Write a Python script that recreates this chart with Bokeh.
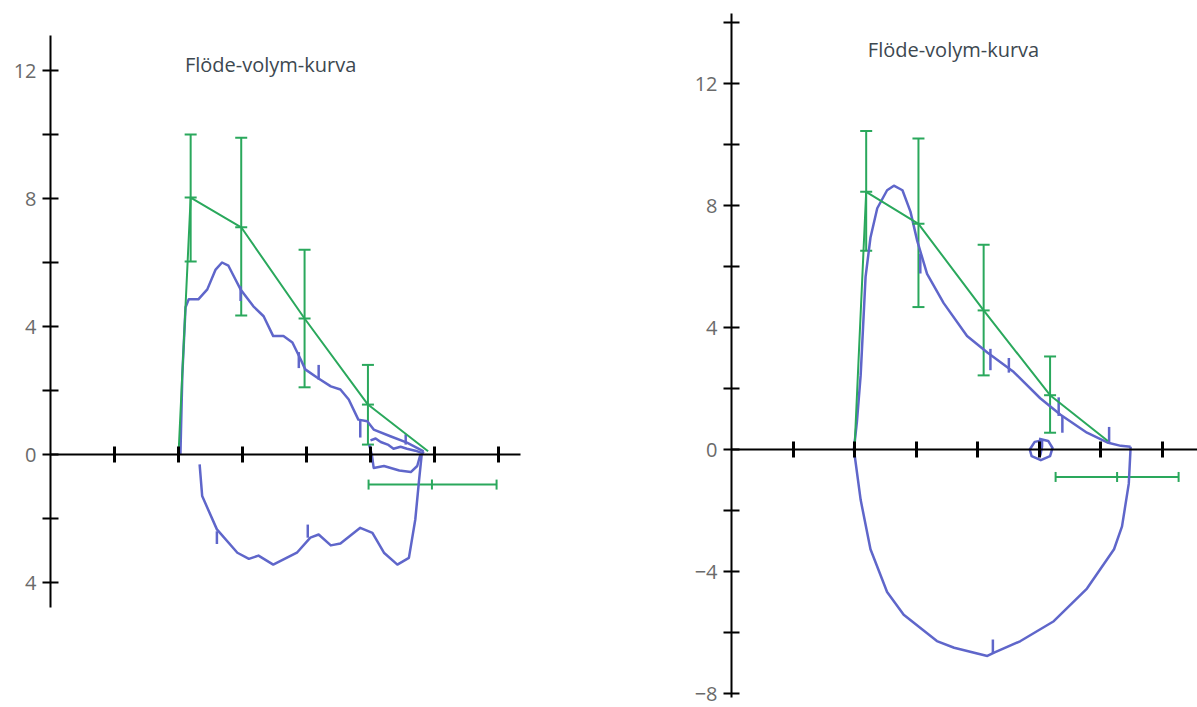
from bokeh.plotting import figure
from bokeh.layouts import row
from bokeh.models import FixedTicker, Range1d, Whisker, ColumnDataSource, TeeHead
from bokeh.embed import file_html
from bokeh.resources import INLINE
from bokeh.core.properties import value

# ---------------- data: left panel ----------------
title_text = "Flöde-volym-kurva"

L_exp_x = [2.03, 2.06, 2.11, 2.16, 2.31, 2.45, 2.58, 2.68, 2.78, 2.89, 2.97, 3.17, 3.33, 3.48,
           3.64, 3.78, 3.91, 3.98, 4.17, 4.38, 4.53, 4.66, 4.81, 4.95, 5.05, 5.31, 5.57, 5.83]
L_exp_y = [0.0, 2.5, 4.6, 4.85, 4.85, 5.16, 5.78, 6.0, 5.9, 5.47, 5.16, 4.63, 4.32, 3.7,
           3.7, 3.5, 2.97, 2.66, 2.4, 2.13, 2.03, 1.72, 1.09, 1.04, 0.78, 0.57, 0.37, 0.1]
L_insp_x = [5.83, 5.8, 5.76, 5.7, 5.6, 5.42, 5.21, 5.03, 4.84, 4.53, 4.38, 4.19, 4.06, 3.85,
            3.48, 3.25, 3.1, 2.92, 2.6, 2.37, 2.33]
L_insp_y = [0.1, 0.0, -0.78, -2.03, -3.23, -3.44, -3.07, -2.45, -2.29, -2.78, -2.84, -2.5, -2.6, -3.07,
            -3.44, -3.16, -3.26, -3.07, -2.34, -1.3, -0.31]
L_loop_x = [4.98, 5.02, 5.05, 5.21, 5.45, 5.63, 5.73, 5.78]
L_loop_y = [0.3, 0.0, -0.42, -0.36, -0.5, -0.55, -0.36, 0.0]
L_trace2_x = [5.0, 5.08, 5.16, 5.28, 5.36, 5.47, 5.57, 5.7, 5.8]
L_trace2_y = [0.44, 0.5, 0.39, 0.3, 0.18, 0.24, 0.18, 0.12, 0.05]
L_tick_x = [2.97, 3.88, 4.19, 4.84, 5.55, 2.6, 4.02]
L_tick_y0 = [4.8, 2.7, 2.34, 0.53, 0.31, -2.8, -2.6]
L_tick_y1 = [5.26, 3.2, 2.8, 1.09, 0.63, -2.4, -2.19]

L_mean_x = [2.0, 2.19, 2.98, 3.97, 4.96, 5.9]
L_mean_y = [0.0, 8.03, 7.1, 4.25, 1.56, 0.1]
L_err_x = [2.19, 2.98, 3.97, 4.96]
L_err_y = [8.03, 7.1, 4.25, 1.56]
L_err_up = [10.0, 9.9, 6.4, 2.8]
L_err_lo = [6.03, 4.34, 2.1, 0.31]
L_h_y = [-0.94]
L_h_mid = [5.96]
L_h_lo = [4.97]
L_h_up = [6.97]

L_yticks = [-4, 0, 4, 8, 12]
L_yminor = [-2, 2, 6, 10]
L_ylabels = {-4: "4", 0: "0", 4: "4", 8: "8", 12: "12"}

# ---------------- data: right panel ----------------
R_exp_x = [1.99, 2.04, 2.1, 2.18, 2.26, 2.37, 2.53, 2.64, 2.78, 2.91, 3.02, 3.18, 3.45, 3.83,
           4.16, 4.59, 5.02, 5.35, 5.78, 6.11, 6.33, 6.49]
R_exp_y = [0.0, 0.92, 2.43, 5.66, 6.95, 7.91, 8.5, 8.65, 8.5, 7.8, 6.84, 5.76, 4.8, 3.72,
           3.18, 2.54, 1.68, 1.14, 0.55, 0.23, 0.12, 0.09]
R_insp_x = [6.49, 6.46, 6.35, 6.22, 5.78, 5.24, 4.70, 4.27, 4.16, 3.62, 3.34, 2.8, 2.53, 2.26, 2.1, 1.99]
R_insp_y = [0.09, -1.12, -2.52, -3.27, -4.56, -5.63, -6.28, -6.66, -6.77, -6.5, -6.28, -5.42, -4.67,
            -3.27, -1.65, 0.0]
R_loop_x = [5.0, 5.15, 5.22, 5.18, 5.03, 4.88, 4.85, 4.93, 5.05, 5.05, 5.02]
R_loop_y = [0.35, 0.28, 0.05, -0.22, -0.35, -0.22, 0.0, 0.25, 0.3, 0.1, -0.2]
R_tick_x = [3.07, 4.21, 4.51, 5.32, 5.38, 6.14, 4.25]
R_tick_y0 = [5.77, 2.6, 2.52, 1.1, 0.55, 0.2, -6.7]
R_tick_y1 = [6.42, 3.3, 3.0, 1.71, 1.1, 0.74, -6.23]

R_mean_x = [2.0, 2.19, 3.04, 4.10, 5.18, 6.12]
R_mean_y = [0.0, 8.45, 7.4, 4.56, 1.78, 0.28]
R_err_x = [2.19, 3.04, 4.10, 5.18]
R_err_y = [8.45, 7.4, 4.56, 1.78]
R_err_up = [10.44, 10.2, 6.71, 3.05]
R_err_lo = [6.52, 4.67, 2.43, 0.55]
R_h_y = [-0.9]
R_h_mid = [6.27]
R_h_lo = [5.27]
R_h_up = [7.27]

R_yticks = [-8, -4, 0, 4, 8, 12]
R_yminor = [-6, -2, 2, 6, 10, 14]
R_ylabels = {-8: "\u22128", -4: "\u22124", 0: "0", 4: "4", 8: "8", 12: "12"}

x_ticks = [1, 2, 3, 4, 5, 6, 7]

BLUE = "#5f66ca"
GREEN = "#2aa85c"
LABEL = "#6a6a6a"
FONT = "Open Sans"
H = 707


def make_panel(width, xr, yr, left, ybounds, xbounds, yticks, yminor, ylabels):
    p = figure(width=width, height=H, output_backend="svg", toolbar_location=None,
               x_range=Range1d(*xr), y_range=Range1d(*yr),
               min_border_left=left, min_border_right=0,
               min_border_top=0, min_border_bottom=0)
    p.outline_line_color = None
    p.grid.visible = False
    p.background_fill_color = "white"
    p.border_fill_color = "white"
    # y axis
    ya = p.yaxis[0]
    ya.bounds = ybounds
    ya.ticker = FixedTicker(ticks=yticks, minor_ticks=yminor)
    ya.major_label_overrides = ylabels
    ya.axis_line_width = 2
    ya.axis_line_color = "black"
    for attr in ("major", "minor"):
        setattr(ya, f"{attr}_tick_in", 8)
        setattr(ya, f"{attr}_tick_out", 8)
        setattr(ya, f"{attr}_tick_line_width", 2)
        setattr(ya, f"{attr}_tick_line_color", "black")
    ya.major_label_text_font = FONT
    ya.major_label_text_font_size = "20px"
    ya.major_label_text_color = LABEL
    ya.major_label_standoff = 6
    # x axis through y = 0
    xa = p.xaxis[0]
    xa.fixed_location = 0
    xa.bounds = xbounds
    xa.ticker = FixedTicker(ticks=x_ticks)
    xa.axis_line_width = 2
    xa.axis_line_color = "black"
    xa.major_tick_in = 8
    xa.major_tick_out = 8
    xa.major_tick_line_width = 3
    xa.major_tick_line_color = "black"
    xa.minor_tick_line_color = None
    xa.major_label_text_color = None
    xa.major_label_text_font_size = "1px"
    return p


def draw(p, curves, tick_x, tick_y0, tick_y1, mean_x, mean_y, err_x, err_y, err_lo, err_up,
         h_y, h_mid, h_lo, h_up, tx, ty):
    for cx, cy in curves:
        p.line(cx, cy, line_color=BLUE, line_width=2.5, line_join="round")
    p.segment(x0=tick_x, y0=tick_y0, x1=tick_x, y1=tick_y1, line_color=BLUE, line_width=2.5)
    p.line(mean_x, mean_y, line_color=GREEN, line_width=2)
    src = ColumnDataSource(dict(x=err_x, lo=err_lo, up=err_up))
    w = Whisker(base="x", lower="lo", upper="up", source=src, line_color=GREEN, line_width=2,
                upper_head=TeeHead(size=12, line_color=GREEN, line_width=2),
                lower_head=TeeHead(size=12, line_color=GREEN, line_width=2))
    p.add_layout(w)
    p.dash(err_x, err_y, size=12, line_color=GREEN, line_width=2)
    hsrc = ColumnDataSource(dict(y=h_y, lo=h_lo, up=h_up))
    hw = Whisker(base="y", lower="lo", upper="up", dimension="width", source=hsrc,
                 line_color=GREEN, line_width=2,
                 upper_head=TeeHead(size=10, line_color=GREEN, line_width=2),
                 lower_head=TeeHead(size=10, line_color=GREEN, line_width=2))
    p.add_layout(hw)
    p.dash(h_mid, h_y, size=10, angle=1.5708, line_color=GREEN, line_width=2)
    p.text(x=[tx], y=[ty], text=[title_text], text_font=value(FONT), text_font_size="20px",
           text_color="#3d4850", text_align="center", text_baseline="middle")


# Left panel: y-axis at screen x=50 (64 px per unit), y=0 at screen y=454 (32 px per unit)
WL = 668
pl = make_panel(WL, (0, (WL - 50) / 64), (-(H - 454) / 32, 454 / 32), 50,
                (-4.78, 13.09), (0, 7.34), L_yticks, L_yminor, L_ylabels)
draw(pl, [(L_exp_x, L_exp_y), (L_insp_x, L_insp_y), (L_loop_x, L_loop_y), (L_trace2_x, L_trace2_y)],
     L_tick_x, L_tick_y0, L_tick_y1, L_mean_x, L_mean_y, L_err_x, L_err_y, L_err_lo, L_err_up,
     L_h_y, L_h_mid, L_h_lo, L_h_up, 3.44, 12.2)

# Right panel: y-axis at screen x=731 (61.5 px per unit), y=0 at screen y=449 (30.5 px per unit)
WR = 1197 - WL
pr = make_panel(WR, (0, (1197 - 731) / 61.5), (-(H - 449) / 30.5, 449 / 30.5), 731 - WL,
                (-8.12, 14.3), (0, 8.0), R_yticks, R_yminor, R_ylabels)
draw(pr, [(R_exp_x, R_exp_y), (R_insp_x, R_insp_y), (R_loop_x, R_loop_y)],
     R_tick_x, R_tick_y0, R_tick_y1, R_mean_x, R_mean_y, R_err_x, R_err_y, R_err_lo, R_err_up,
     R_h_y, R_h_mid, R_h_lo, R_h_up, 3.61, 13.1)

layout = row(pl, pr)
open("out.html", "w").write(file_html(layout, INLINE))
